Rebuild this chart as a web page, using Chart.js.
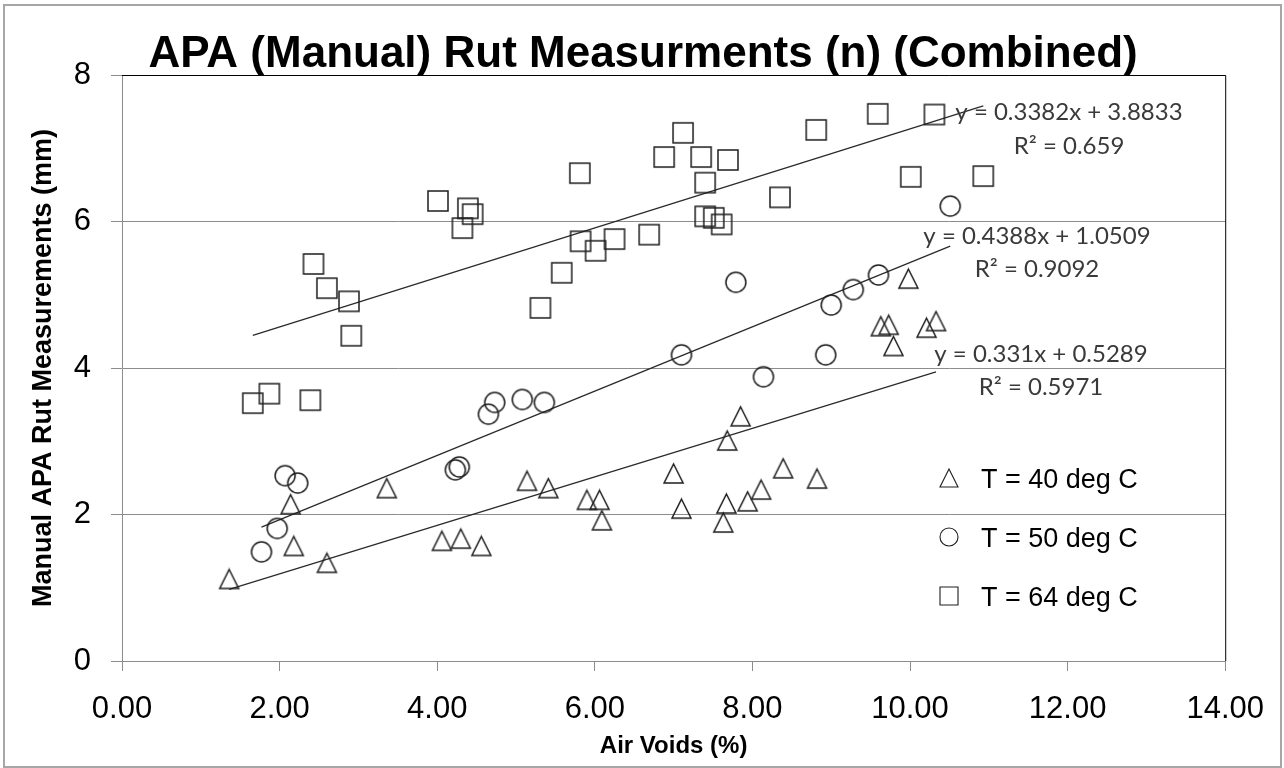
<!DOCTYPE html>
<html>
<head>
<meta charset="utf-8">
<title>APA (Manual) Rut Measurments (n) (Combined)</title>
<script src="https://cdn.jsdelivr.net/npm/chart.js@4.4.1/dist/chart.umd.min.js"></script>
<style>
  body { margin: 0; background: #fff; }
  canvas { display: block; }
</style>
</head>
<body>
<canvas id="rutChart" width="1284" height="768"></canvas>
<script>
const chartTitle = "APA (Manual) Rut Measurments (n) (Combined)";
const xAxisTitle = "Air Voids (%)";
const yAxisTitle = "Manual APA Rut Measurements (mm)";
const seriesLabels = ["T = 40 deg C", "T = 50 deg C", "T = 64 deg C"];
const markerShapes = ["triangle", "circle", "square"];

// T = 40 deg C
const x40 = [1.36, 2.14, 2.18, 2.60, 3.36, 4.06, 4.30, 4.56, 5.14, 5.41, 5.90, 6.06, 6.09, 7.00, 7.10,
  7.63, 7.67, 7.68, 7.85, 7.94, 8.11, 8.39, 8.82, 9.63, 9.73, 9.79, 9.98, 10.21, 10.33];
const y40 = [1.12, 2.14, 1.57, 1.34, 2.36, 1.64, 1.67, 1.57, 2.46, 2.36, 2.20, 2.20, 1.92, 2.56, 2.08,
  1.89, 2.15, 3.01, 3.34, 2.18, 2.34, 2.63, 2.49, 4.57, 4.59, 4.30, 5.22, 4.55, 4.64];

// T = 50 deg C
const x50 = [1.77, 1.97, 2.07, 2.23, 4.23, 4.28, 4.65, 4.73, 5.08, 5.36, 7.10, 7.79, 8.14, 8.93, 9.00,
  9.28, 9.60, 10.51];
const y50 = [1.49, 1.81, 2.53, 2.43, 2.61, 2.65, 3.37, 3.53, 3.57, 3.53, 4.18, 5.17, 3.88, 4.18, 4.86,
  5.07, 5.27, 6.21];

// T = 64 deg C
const x64 = [1.66, 1.87, 2.39, 2.43, 2.60, 2.88, 2.91, 4.01, 4.32, 4.39, 4.45, 5.31, 5.58, 5.81, 5.82,
  6.01, 6.25, 6.69, 6.88, 7.12, 7.35, 7.40, 7.40, 7.51, 7.61, 7.69, 8.35, 8.81, 9.59, 10.01, 10.31, 10.93];
const y64 = [3.52, 3.65, 3.56, 5.42, 5.09, 4.91, 4.44, 6.28, 5.91, 6.18, 6.10, 4.82, 5.30, 6.66, 5.73,
  5.60, 5.76, 5.82, 6.88, 7.21, 6.88, 6.53, 6.07, 6.05, 5.96, 6.84, 6.33, 7.25, 7.47, 6.61, 7.46, 6.62];

// linear trendlines as printed on the chart
const trendSlopes = ["0.331", "0.4388", "0.3382"];
const trendIntercepts = ["0.5289", "1.0509", "3.8833"];
const trendR2 = ["0.5971", "0.9092", "0.659"];

const xSeries = [x40, x50, x64];
const ySeries = [y40, y50, y64];

const ARIAL = "'Liberation Sans', Arial, sans-serif";
const INK = "#1e1e1e";
const GRID = "#8c8c8c";

function makeMarker(shape, size, lineWidth) {
  const c = document.createElement("canvas");
  c.width = size + 4;
  c.height = size + 4;
  const g = c.getContext("2d");
  const m = c.width / 2;
  const h = size / 2;
  g.strokeStyle = INK;
  g.lineWidth = lineWidth;
  g.beginPath();
  if (shape === "triangle") {
    g.moveTo(m, m - h);
    g.lineTo(m + h, m + h);
    g.lineTo(m - h, m + h);
    g.closePath();
  } else if (shape === "circle") {
    g.arc(m, m, h, 0, Math.PI * 2);
  } else {
    g.rect(m - h, m - h, size, size);
  }
  g.stroke();
  return c;
}

const markerSizes = [19, 20, 20];
const datasets = [];
xSeries.forEach((xs, i) => {
  datasets.push({
    type: "scatter",
    label: seriesLabels[i],
    data: xs.map((x, j) => ({ x: x, y: ySeries[i][j] })),
    pointStyle: makeMarker(markerShapes[i], markerSizes[i], 1.5),
    pointRadius: 10,
    legendMarker: makeMarker(markerShapes[i], 18, 1.1),
  });
});
xSeries.forEach((xs, i) => {
  const lo = Math.min(...xs);
  const hi = Math.max(...xs);
  const a = parseFloat(trendSlopes[i]);
  const b = parseFloat(trendIntercepts[i]);
  datasets.push({
    type: "line",
    label: "Linear (" + seriesLabels[i] + ")",
    data: [lo, hi].map((x) => ({ x: x, y: a * x + b })),
    borderColor: "#2a2a2a",
    borderWidth: 1.3,
    pointRadius: 0,
    fill: false,
  });
});

// where the equation labels and the legend sit (pixels)
const trendLabelPos = [
  { x: 1041, y: 361.5 },
  { x: 1037, y: 243.5 },
  { x: 1069, y: 120 },
];
const legendPos = { markerX: 949, textX: 981, y: 478, gap: 59 };

const decor = {
  id: "decor",
  beforeDraw(chart) {
    const ctx = chart.ctx;
    ctx.save();
    ctx.fillStyle = "#fff";
    ctx.fillRect(0, 0, chart.width, chart.height);
    ctx.restore();
  },
  afterLayout(chart) {
    // title is centred a little right of the canvas middle
    if (chart.titleBlock) {
      chart.titleBlock.left = 61;
      chart.titleBlock.right = chart.chartArea.right;
    }
  },
  afterDraw(chart) {
    const ctx = chart.ctx;
    const { left, right, top, bottom } = chart.chartArea;
    ctx.save();
    // plot area top and right edges
    ctx.strokeStyle = "#000";
    ctx.lineWidth = 1;
    ctx.beginPath();
    ctx.moveTo(left, top + 0.5);
    ctx.lineTo(right + 0.5, top + 0.5);
    ctx.lineTo(right + 0.5, bottom);
    ctx.stroke();
    // outer frame
    ctx.strokeStyle = "#a6a6a6";
    ctx.lineWidth = 2;
    ctx.strokeRect(4, 5, chart.width - 7, chart.height - 6);

    // trendline equations
    ctx.fillStyle = "#3a3a3a";
    ctx.font = "24px Lato, 'Open Sans', sans-serif";
    ctx.textAlign = "center";
    ctx.textBaseline = "alphabetic";
    trendLabelPos.forEach((p, i) => {
      ctx.fillText("y = " + trendSlopes[i] + "x + " + trendIntercepts[i], p.x, p.y);
      ctx.fillText("R\u00B2 = " + trendR2[i], p.x, p.y + 33.5);
    });

    // legend
    ctx.fillStyle = "#000";
    ctx.font = "27px " + ARIAL;
    ctx.textAlign = "left";
    chart.data.datasets.forEach((ds) => {
      if (!ds.legendMarker) return;
      const idx = seriesLabels.indexOf(ds.label);
      const y = legendPos.y + idx * legendPos.gap;
      const mk = ds.legendMarker;
      ctx.drawImage(mk, legendPos.markerX - mk.width / 2, y - mk.height / 2);
      ctx.fillText(ds.label, legendPos.textX, y + 9.7);
    });
    ctx.restore();
  },
};

new Chart(document.getElementById("rutChart"), {
  data: { datasets: datasets },
  options: {
    responsive: false,
    animation: false,
    events: [],
    layout: { padding: { left: 8, right: 57, top: 0, bottom: 0 } },
    plugins: {
      legend: { display: false },
      tooltip: { enabled: false },
      title: {
        display: true,
        text: chartTitle,
        color: "#000",
        font: { family: ARIAL, size: 44, weight: "bold", lineHeight: 0.9 },
        padding: { top: 34.6, bottom: 0.8 },
      },
    },
    scales: {
      x: {
        type: "linear",
        min: 0,
        max: 14,
        afterFit(scale) { scale.height = 107; },
        ticks: {
          stepSize: 2,
          maxRotation: 0,
          padding: 20,
          color: "#000",
          font: { family: ARIAL, size: 31 },
          callback: (v) => v.toFixed(2),
        },
        grid: { drawOnChartArea: false, tickLength: 10, color: GRID },
        border: { color: GRID },
        title: {
          display: true,
          text: xAxisTitle,
          color: "#000",
          font: { family: ARIAL, size: 24, weight: "bold" },
          padding: { top: 0, bottom: 7 },
        },
      },
      y: {
        type: "linear",
        min: 0,
        max: 8,
        afterFit(scale) { scale.width = 114; },
        ticks: {
          stepSize: 2,
          padding: 20,
          color: "#000",
          font: { family: ARIAL, size: 31 },
        },
        grid: { color: GRID, tickLength: 11 },
        border: { color: GRID },
        title: {
          display: true,
          text: yAxisTitle,
          color: "#000",
          font: { family: ARIAL, size: 27, weight: "bold" },
          padding: { top: 19.4, bottom: 0 },
        },
      },
    },
  },
  plugins: [decor],
});
</script>
</body>
</html>
